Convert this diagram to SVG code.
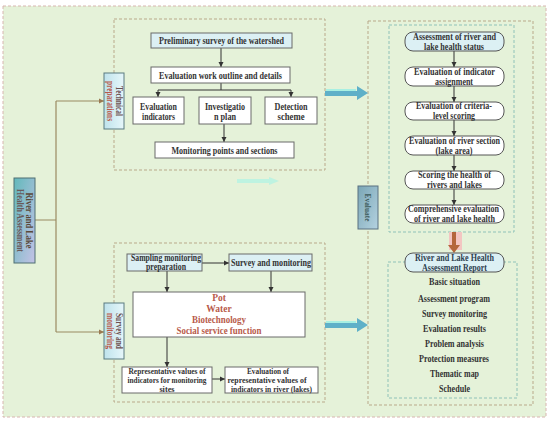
<svg xmlns="http://www.w3.org/2000/svg" width="550" height="421" viewBox="0 0 550 421">
<defs>
<style>
.t{font-family:"Liberation Serif","Times New Roman",serif;font-weight:bold;font-size:9.5px;fill:#333;text-anchor:middle}
.s{font-size:8.3px}
.r{fill:#b85a4a}
.bx{fill:#fff;stroke:#6a6a6a;stroke-width:1}
.bl{fill:#dcf0f4;stroke:#6a6a6a;stroke-width:1}
.rr{fill:#fff;stroke:#555;stroke-width:1}
.rb{fill:#dcf0f4;stroke:#555;stroke-width:1}
.dsh{fill:none;stroke:#b9a98a;stroke-width:1;stroke-dasharray:3 2}
.dsh2{fill:none;stroke:#8fc2b8;stroke-width:1;stroke-dasharray:3 2}
.c{stroke:#333;stroke-width:1;fill:none;marker-end:url(#ah)}
.cl{stroke:#333;stroke-width:1;fill:none}
.tr{stroke:#9a8a62;stroke-width:1.2;fill:none}
</style>
<marker id="ah" markerWidth="6" markerHeight="6" refX="5" refY="3" orient="auto" markerUnits="userSpaceOnUse">
<path d="M0,0.5 L5,3 L0,5.5 Z" fill="#333"/>
</marker>
<marker id="ah2" markerWidth="6" markerHeight="6" refX="5" refY="3" orient="auto" markerUnits="userSpaceOnUse">
<path d="M0,0.5 L5,3 L0,5.5 Z" fill="#9a7a52"/>
</marker>
<linearGradient id="gL" x1="0" y1="0" x2="1" y2="1">
<stop offset="0" stop-color="#62b9bb"/>
<stop offset="1" stop-color="#c4c2e6"/>
</linearGradient>
<linearGradient id="gT" x1="0" y1="0" x2="1" y2="0">
<stop offset="0" stop-color="#bfe3ec"/>
<stop offset="1" stop-color="#e6f6fa"/>
</linearGradient>
<linearGradient id="gE" x1="0" y1="0" x2="1" y2="1">
<stop offset="0" stop-color="#7aa6b6"/>
<stop offset="1" stop-color="#b4d2e0"/>
</linearGradient>
</defs>

<rect x="0" y="0" width="550" height="421" fill="#fff"/>
<rect x="3" y="6" width="543" height="411" fill="#e5f2d9" stroke="#d8b6b0" stroke-width="1" stroke-dasharray="3 2"/>

<g id="containers">
<rect class="dsh" x="114" y="19" width="211" height="151"/>
<rect class="dsh" x="114" y="243" width="211" height="159"/>
<rect class="dsh" x="368" y="21" width="165" height="384"/>
<rect class="dsh2" x="389" y="25" width="125" height="207"/>
<rect class="dsh2" x="388" y="262" width="129" height="136"/>
</g>

<g id="connectors">
<path class="tr" d="M35,220 H56 M56,101 V332"/>
<path class="tr" d="M56,101 H104" marker-end="url(#ah2)"/>
<path class="tr" d="M56,332 H104" marker-end="url(#ah2)"/>
<path class="c" d="M221,48 V67"/>
<path class="cl" d="M221,83 V90 M158,90 H291"/>
<path class="c" d="M158,90 V97"/>
<path class="c" d="M291,90 V97"/>
<path class="c" d="M224,124 V142"/>
<path class="c" d="M202,263 H229"/>
<path class="c" d="M167,271 V292"/>
<path class="c" d="M271,271 V292"/>
<path class="c" d="M167,337 V367"/>
<path class="c" d="M212,379 H225"/>
<path class="c" d="M454,51 V67"/>
<path class="c" d="M454,86 V102"/>
<path class="c" d="M454,120 V136"/>
<path class="c" d="M454,155 V171"/>
<path class="c" d="M454,189 V205"/>
<rect x="326" y="89" width="30" height="5" fill="#a8f0e2"/>
<polygon points="325,91 357,91 357,86 368,93 357,100 357,96 325,96" fill="#5fb0c8"/>
<rect x="326" y="321" width="30" height="5" fill="#a8f0e2"/>
<polygon points="325,323 357,323 357,318 368,325 357,332 357,328 325,328" fill="#5fb0c8"/>
<rect x="449" y="232" width="13" height="18" fill="#f3c6c2"/>
<polygon points="452,232 456,232 456,245 460,245 454,253 448,245 452,245" fill="#b4673c"/>
<polygon points="237,179 269,179 269,177 279,181 269,185 269,183 237,183" fill="#b4f2e2" opacity="0.8"/>
</g>

<g id="n-river-lake">
<rect x="14" y="178" width="21" height="85" fill="url(#gL)" stroke="#4f6f73" stroke-width="1"/>
<g transform="translate(24.5,220.5) rotate(90)">
<text class="t" x="0" y="-1.5" style="fill:#5a4a3a" textLength="56" lengthAdjust="spacingAndGlyphs">River and Lake</text>
<text class="t" x="0" y="7.5" style="fill:#6a5a5a" textLength="63" lengthAdjust="spacingAndGlyphs">Health Assessment</text>
</g>
</g>

<g id="n-technical">
<rect x="104" y="73" width="20" height="56" fill="url(#gT)" stroke="#5a7a80" stroke-width="1"/>
<g transform="translate(114,101) rotate(90)">
<text class="t" x="0" y="-1.5" style="fill:#6a5050" textLength="30" lengthAdjust="spacingAndGlyphs">Technical</text>
<text class="t r" x="0" y="7.5" textLength="40" lengthAdjust="spacingAndGlyphs">preparations</text>
</g>
</g>

<g id="n-survey-side">
<rect x="104" y="303" width="20" height="56" fill="url(#gT)" stroke="#5a7a80" stroke-width="1"/>
<g transform="translate(114,331) rotate(90)">
<text class="t" x="0" y="-1.5" style="fill:#6a5050" textLength="36" lengthAdjust="spacingAndGlyphs">Survey and</text>
<text class="t r" x="0" y="7.5" textLength="36" lengthAdjust="spacingAndGlyphs">monitoring</text>
</g>
</g>

<g id="n-evaluate">
<rect x="358" y="186" width="20" height="43" fill="url(#gE)" stroke="#5a7080" stroke-width="1"/>
<g transform="translate(368,207.5) rotate(90)">
<text class="t s" x="0" y="3" style="fill:#3c5a5a" textLength="28" lengthAdjust="spacingAndGlyphs">Evaluate</text>
</g>
</g>

<g id="n-preliminary">
<rect class="bl" x="151" y="33" width="141" height="15"/>
<text class="t" x="221.5" y="43.5" textLength="125" lengthAdjust="spacingAndGlyphs">Preliminary survey of the watershed</text>
</g>
<g id="n-outline">
<rect class="bx" x="151" y="67" width="139" height="16"/>
<text class="t" x="220.5" y="78.5" textLength="123" lengthAdjust="spacingAndGlyphs">Evaluation work outline and details</text>
</g>
<g id="n-indicators">
<rect class="bx" x="133" y="97" width="51" height="27"/>
<text class="t" x="158.5" y="109.5" textLength="37" lengthAdjust="spacingAndGlyphs">Evaluation</text>
<text class="t" x="158.5" y="120" textLength="33" lengthAdjust="spacingAndGlyphs">indicators</text>
</g>
<g id="n-investigation">
<rect class="bx" x="199" y="97" width="52" height="27"/>
<text class="t" x="225" y="109.5" textLength="40" lengthAdjust="spacingAndGlyphs">Investigatio</text>
<text class="t" x="225" y="120" textLength="22" lengthAdjust="spacingAndGlyphs">n plan</text>
</g>
<g id="n-detection">
<rect class="bx" x="265" y="97" width="52" height="27"/>
<text class="t" x="291" y="109.5" textLength="33" lengthAdjust="spacingAndGlyphs">Detection</text>
<text class="t" x="291" y="120" textLength="27" lengthAdjust="spacingAndGlyphs">scheme</text>
</g>
<g id="n-monitoring-points">
<rect class="bx" x="155" y="142" width="139" height="16"/>
<text class="t" x="224.5" y="153.5" textLength="106" lengthAdjust="spacingAndGlyphs">Monitoring points and sections</text>
</g>

<g id="n-sampling">
<rect class="bl" x="127" y="254" width="75" height="17"/>
<text class="t" x="166" y="261" textLength="70" lengthAdjust="spacingAndGlyphs">Sampling monitoring</text>
<text class="t" x="166" y="270" textLength="40" lengthAdjust="spacingAndGlyphs">preparation</text>
</g>
<g id="n-survey-monitoring">
<rect class="bl" x="229" y="254" width="83" height="17"/>
<text class="t" x="271" y="266" textLength="80" lengthAdjust="spacingAndGlyphs">Survey and monitoring</text>
</g>
<g id="n-categories">
<rect class="bx" x="133" y="292" width="172" height="45"/>
<text class="t r" x="219" y="300.5">Pot</text>
<text class="t r" x="219" y="312">Water</text>
<text class="t r" x="219" y="323" textLength="54" lengthAdjust="spacingAndGlyphs">Biotechnology</text>
<text class="t r" x="219" y="334" textLength="85" lengthAdjust="spacingAndGlyphs">Social service function</text>
</g>
<g id="n-representative">
<rect class="bx" x="122" y="367" width="90" height="26"/>
<text class="t s" x="167" y="373.5" textLength="77" lengthAdjust="spacingAndGlyphs">Representative values of</text>
<text class="t s" x="167" y="382.5" textLength="79" lengthAdjust="spacingAndGlyphs">indicators for monitoring</text>
<text class="t s" x="167" y="391.5">sites</text>
</g>
<g id="n-evaluation-rep">
<rect class="bx" x="225" y="367" width="93" height="26"/>
<text class="t s" x="268" y="373.5" textLength="42" lengthAdjust="spacingAndGlyphs">Evaluation of</text>
<text class="t s" x="267" y="382.5" textLength="79" lengthAdjust="spacingAndGlyphs">representative values of</text>
<text class="t s" x="271.5" y="391.5" textLength="81" lengthAdjust="spacingAndGlyphs">indicators in river  (lakes)</text>
</g>

<g id="n-assessment-status">
<rect class="rb" x="405" y="32" width="99" height="19" rx="8"/>
<text class="t" x="454.5" y="40" textLength="83" lengthAdjust="spacingAndGlyphs">Assessment of river and</text>
<text class="t" x="454" y="50" textLength="60" lengthAdjust="spacingAndGlyphs">lake health status</text>
</g>
<g id="n-indicator-assignment">
<rect class="rr" x="405" y="67" width="99" height="19" rx="8"/>
<text class="t" x="454.5" y="74.5" textLength="81" lengthAdjust="spacingAndGlyphs">Evaluation of indicator</text>
<text class="t" x="454" y="85" textLength="38" lengthAdjust="spacingAndGlyphs">assignment</text>
</g>
<g id="n-criteria">
<rect class="rr" x="405" y="102" width="99" height="18" rx="8"/>
<text class="t" x="454" y="109" textLength="76" lengthAdjust="spacingAndGlyphs">Evaluation of criteria-</text>
<text class="t" x="454" y="119" textLength="42" lengthAdjust="spacingAndGlyphs">level scoring</text>
</g>
<g id="n-river-section">
<rect class="rr" x="405" y="136" width="99" height="19" rx="8"/>
<text class="t" x="454.5" y="143.5" textLength="91" lengthAdjust="spacingAndGlyphs">Evaluation of river section</text>
<text class="t" x="454" y="154" textLength="37" lengthAdjust="spacingAndGlyphs">(lake area)</text>
</g>
<g id="n-scoring">
<rect class="rr" x="405" y="171" width="99" height="18" rx="8"/>
<text class="t" x="454.5" y="178" textLength="73" lengthAdjust="spacingAndGlyphs">Scoring the health of</text>
<text class="t" x="454.5" y="188" textLength="55" lengthAdjust="spacingAndGlyphs">rivers and lakes</text>
</g>
<g id="n-comprehensive">
<rect class="rr" x="405" y="205" width="99" height="18" rx="8"/>
<text class="t" x="453.5" y="212" textLength="91" lengthAdjust="spacingAndGlyphs">Comprehensive evaluation</text>
<text class="t" x="454.5" y="222" textLength="81" lengthAdjust="spacingAndGlyphs">of river and lake health</text>
</g>

<g id="n-report">
<rect class="rb" x="405" y="253" width="99" height="19" rx="8"/>
<text class="t" x="454.5" y="261" textLength="79" lengthAdjust="spacingAndGlyphs" style="fill:#2f3f4f">River and Lake Health</text>
<text class="t" x="454.5" y="271" textLength="65" lengthAdjust="spacingAndGlyphs" style="fill:#2f3f4f">Assessment Report</text>
<text class="t" x="454.5" y="285" textLength="51" lengthAdjust="spacingAndGlyphs">Basic situation</text>
<text class="t" x="454" y="302" textLength="72" lengthAdjust="spacingAndGlyphs">Assessment program</text>
<text class="t" x="454.5" y="317" textLength="65" lengthAdjust="spacingAndGlyphs">Survey monitoring</text>
<text class="t" x="454.5" y="332" textLength="63" lengthAdjust="spacingAndGlyphs">Evaluation results</text>
<text class="t" x="454.5" y="347" textLength="59" lengthAdjust="spacingAndGlyphs">Problem analysis</text>
<text class="t" x="454" y="362" textLength="70" lengthAdjust="spacingAndGlyphs">Protection measures</text>
<text class="t" x="454.5" y="377" textLength="49" lengthAdjust="spacingAndGlyphs">Thematic map</text>
<text class="t" x="454.5" y="392" textLength="31" lengthAdjust="spacingAndGlyphs">Schedule</text>
</g>
</svg>
